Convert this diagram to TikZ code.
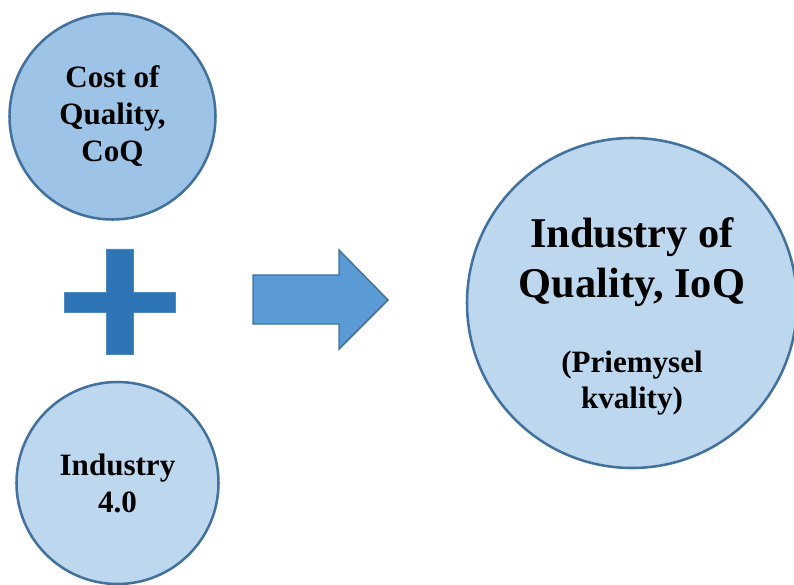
\documentclass[tikz,border=0pt]{standalone}
\usepackage{fontspec}
\setmainfont{Liberation Serif}
\usepackage{tikz}
\usetikzlibrary{shapes.geometric}
\definecolor{circdark}{HTML}{9DC3E6}
\definecolor{circlight}{HTML}{BDD7EE}
\definecolor{circline}{HTML}{41719C}
\definecolor{plusblue}{HTML}{2E75B6}
\definecolor{arrowblue}{HTML}{5B9BD5}
\tikzstyle{source} = [circle, draw=circline, line width=1.9pt, align=center,
    font=\bfseries\fontsize{23.3}{27.8}\selectfont, inner sep=0pt]
\tikzstyle{target} = [circle, draw=circline, fill=circlight, line width=1.9pt,
    minimum size=247.5pt]
\tikzstyle{title} = [align=center, font=\bfseries\fontsize{31.8}{37.5}\selectfont]
\tikzstyle{subtitle} = [align=center, font=\bfseries\fontsize{23.3}{27}\selectfont]
\tikzstyle{plus} = [fill=plusblue, draw=plusblue!85!white, line width=0.5pt]
\tikzstyle{bigarrow} = [fill=arrowblue, draw=circline, line width=1.1pt, line join=miter]

\begin{document}
\begin{tikzpicture}[x=0.75pt, y=-0.75pt]
            \useasboundingbox (0,0) rectangle (794,585);
            % Place nodes
            \node [source, fill=circdark, minimum size=154.5pt] (coq) at (112.5,116.5) {Cost of\\Quality,\\CoQ};
            \node [source, fill=circlight, minimum size=151.5pt] (ind) at (117.5,483) {Industry\\4.0};
            \node [target] (ioq) at (632,303) {};
            \node [title] (ioqname) at (632,262) {Industry of\\Quality, IoQ};
            \node [subtitle] (ioqsk) at (632,383) {(Priemysel\\kvality)};

            % Draw shapes
            \path [plus] (106,249) -- (133,249) -- (133,292) -- (175,292) -- (175,312)
                -- (133,312) -- (133,354) -- (106,354) -- (106,312) -- (64,312)
                -- (64,292) -- (106,292) -- cycle;
            \path [bigarrow] (253,275) -- (339,275) -- (339,250) -- (388,300)
                -- (339,349) -- (339,324) -- (253,324) -- cycle;

        \end{tikzpicture}
\end{document}
